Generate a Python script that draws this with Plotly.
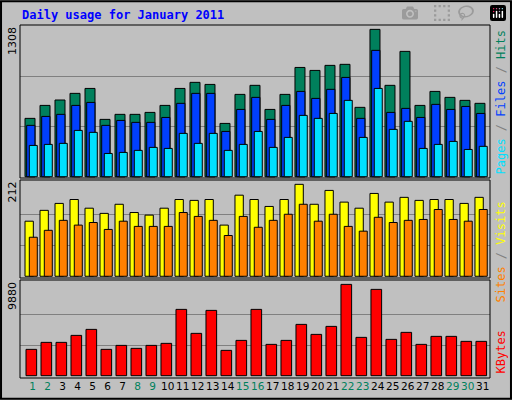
import plotly.graph_objects as go

days = list(range(1, 32))
weekend = [1, 2, 8, 9, 15, 16, 22, 23, 29, 30]

hits = [509, 622, 669, 727, 770, 500, 544, 544, 561, 622, 770, 823, 805, 465, 718, 797,
        587, 718, 953, 927, 971, 980, 605, 1285, 797, 1093, 622, 744, 692, 666, 640]
files = [448, 526, 544, 622, 648, 448, 491, 474, 474, 517, 640, 727, 727, 395, 587, 692,
         500, 622, 744, 683, 762, 866, 509, 1102, 561, 596, 517, 631, 587, 613, 552]
pages = [273, 282, 291, 404, 387, 203, 212, 230, 256, 247, 378, 291, 378, 230, 282, 395,
         256, 343, 535, 509, 552, 666, 343, 770, 413, 483, 247, 282, 308, 238, 265]
visits = [127, 152, 168, 177, 157, 145, 166, 147, 141, 157, 177, 175, 177, 118, 187, 177,
          161, 177, 212, 166, 198, 171, 157, 191, 171, 182, 175, 177, 177, 168, 182]
sites = [90, 106, 129, 118, 124, 108, 127, 115, 115, 115, 147, 138, 129, 94, 138, 113,
         129, 143, 166, 127, 143, 115, 104, 136, 124, 129, 131, 154, 131, 127, 154]
kbytes = [2849, 3606, 3606, 4363, 5012, 2849, 3281, 2957, 3281, 3498, 7176, 4580, 7068,
          2741, 3822, 7176, 3390, 3822, 5553, 4471, 5337, 9880, 4147, 9340, 3931, 4688,
          3390, 4255, 4255, 3714, 3714]

BG = "#C0C0C0"
GRID = "#808080"
fig = go.Figure()

def bars(y, color, offset, width, xa, ya):
    fig.add_trace(go.Bar(x=days, y=y, offset=offset, width=width, marker_color=color,
                         marker_line=dict(color="black", width=1), xaxis=xa, yaxis=ya,
                         hoverinfo="x+y", showlegend=False))

bars(hits, "#00805C", -0.513, 0.667, "x", "y")
bars(files, "#0040FF", -0.4, 0.55, "x", "y")
bars(pages, "#00E0FF", -0.227, 0.533, "x", "y")
bars(visits, "#FFFF00", -0.513, 0.555, "x2", "y2")
bars(sites, "#FF8000", -0.227, 0.533, "x2", "y2")
bars(kbytes, "#FF0000", -0.447, 0.71, "x3", "y3")

xdom = [20 / 512, 490 / 512]
xcommon = dict(domain=xdom, range=[0.153, 31.49], showgrid=False, zeroline=False,
               fixedrange=True)
ticktext = ["<span style='color:%s'>%d</span>" % ("#00805C" if d in weekend else "black", d)
            for d in days]

def ycfg(dom, rng, grid):
    return dict(domain=dom, range=rng, tickvals=grid, showticklabels=False, ticks="",
                gridcolor=GRID, gridwidth=1, zeroline=False, fixedrange=True)

fig.update_layout(
    width=512, height=400, margin=dict(l=0, r=0, t=0, b=0),
    paper_bgcolor=BG, plot_bgcolor=BG, barmode="overlay",
    font=dict(family="DejaVu Sans", color="black"),
    xaxis=dict(xcommon, anchor="y", showticklabels=False),
    xaxis2=dict(xcommon, anchor="y2", showticklabels=False),
    xaxis3=dict(xcommon, anchor="y3", tickvals=days, ticktext=ticktext, ticks="",
                tickangle=0, tickfont=dict(size=10.5, family="DejaVu Sans")),
    yaxis=ycfg([1 - 178 / 400, 1 - 25 / 400], [-11, 1323], [436, 872]),
    yaxis2=ycfg([1 - 278 / 400, 1 - 180 / 400], [-4, 222], [70.7, 141.3]),
    yaxis3=ycfg([1 - 378 / 400, 1 - 280 / 400], [-249, 10355], [3293, 6587]),
)

shapes = [dict(type="rect", xref="paper", yref="paper", x0=0.002, x1=0.998, y0=0.003,
               y1=0.997, line=dict(color="black", width=2))]
for top, bot in [(25, 178), (180, 278), (280, 378)]:
    shapes.append(dict(type="rect", xref="paper", yref="paper", x0=xdom[0], x1=xdom[1],
                       y0=1 - bot / 400, y1=1 - top / 400, line=dict(color="black", width=1)))
fig.update_layout(shapes=shapes)

ann = [dict(text="<b>Daily usage for January 2011</b>", x=20 / 512, y=1 - 15 / 400,
            xanchor="left", yanchor="middle",
            font=dict(family="DejaVu Sans Mono", size=12, color="#0000FF"))]
for label, ytop in [("1308", 25), ("212", 180), ("9880", 280)]:
    ann.append(dict(text=label, x=12 / 512, y=1 - ytop / 400, xanchor="center",
                    yanchor="top", textangle=-90, font=dict(size=11)))
mono = dict(family="DejaVu Sans Mono", size=12)
ann.append(dict(text="<span style='color:#00E0FF'>Pages</span><span style='color:#808080'> / </span>"
                     "<span style='color:#0040FF'>Files</span><span style='color:#808080'> / </span>"
                     "<span style='color:#00805C'>Hits</span>",
                x=500 / 512, y=1 - 28 / 400, xanchor="center", yanchor="top", textangle=-90,
                font=mono))
ann.append(dict(text="<span style='color:#FF8000'>Sites</span><span style='color:#808080'> / </span>"
                     "<span style='color:#FFFF00'>Visits</span>",
                x=500 / 512, y=1 - 200 / 400, xanchor="center", yanchor="top", textangle=-90,
                font=mono))
ann.append(dict(text="<span style='color:#FF0000'>KBytes</span>",
                x=500 / 512, y=1 - 376 / 400, xanchor="center", yanchor="bottom", textangle=-90,
                font=mono))
for a in ann:
    a.update(xref="paper", yref="paper", showarrow=False)
fig.update_layout(annotations=ann)

fig.write_html("out.html", post_script="document.body.style.margin='0px';")
